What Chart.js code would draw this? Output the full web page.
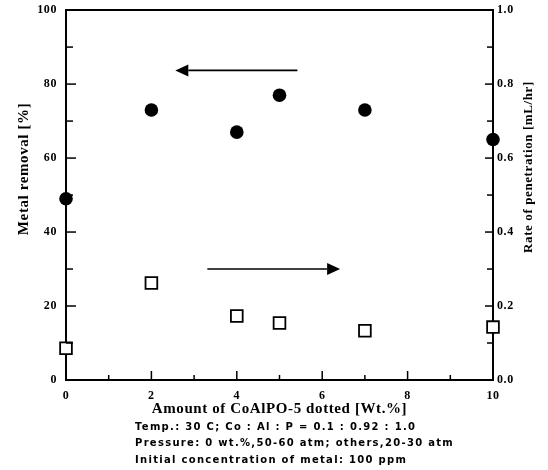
<!DOCTYPE html>
<html>
<head>
<meta charset="utf-8">
<script src="https://cdn.jsdelivr.net/npm/chart.js@4/dist/chart.umd.min.js"></script>
<style>
  html, body { margin: 0; padding: 0; background: #fff; }
  #wrap { width: 548px; height: 470px; position: relative; }
</style>
</head>
<body>
<div id="wrap"><canvas id="c" width="548" height="470"></canvas></div>
<script>
// ---- data ----
const amounts = [0, 2, 4, 5, 7, 10];                       // wt.% CoAlPO-5
const metalRemoval = [49, 73, 67, 77, 73, 65];             // % (left axis)
const penetrationRate = [0.086, 0.262, 0.173, 0.154, 0.133, 0.143]; // mL/hr (right axis)
const xTickLabels = ['0', '', '2', '', '4', '', '6', '', '8', '', '10'];
const leftTickLabels = ['0', '', '20', '', '40', '', '60', '', '80', '', '100'];
const rightTickLabels = ['0.0', '', '0.2', '', '0.4', '', '0.6', '', '0.8', '', '1.0'];
// arrows: [xStart, xEnd, y(left axis)]
const arrowToRemoval = [5.42, 2.56, 83.7];
const arrowToRate = [3.31, 6.42, 30.0];
const footerLines = [
  'Temp.: 30 C; Co : Al : P = 0.1 : 0.92 : 1.0',
  'Pressure: 0 wt.%,50-60 atm; others,20-30 atm',
  'Initial concentration of metal: 100 ppm'
];
const xTitle = 'Amount of CoAlPO-5 dotted [Wt.%]';
const leftTitle = 'Metal removal [%]';
const rightTitle = 'Rate of penetration [mL/hr]';

const serifBold = (s) => ({ family: '"Liberation Serif", "Times New Roman", serif', size: s, weight: 'bold' });

const spacingPlugin = {
  id: 'spacing',
  beforeDraw(chart) { chart.ctx.letterSpacing = '0.6px'; }
};

const decorPlugin = {
  id: 'decor',
  afterDraw(chart) {
    const { ctx, chartArea: ca, scales } = chart;
    const x = scales.x, y = scales.y, y2 = scales.y2;
    ctx.save();
    ctx.strokeStyle = '#000';
    ctx.fillStyle = '#000';
    // top border
    ctx.lineWidth = 2;
    ctx.beginPath();
    ctx.moveTo(ca.left - 1, ca.top);
    ctx.lineTo(ca.right + 1, ca.top);
    ctx.stroke();
    // inward tick marks
    ctx.lineWidth = 1.5;
    x.ticks.forEach((t, i) => {
      const px = x.getPixelForValue(t.value);
      const len = xTickLabels[i] ? 9 : 5;
      ctx.beginPath(); ctx.moveTo(px, ca.bottom); ctx.lineTo(px, ca.bottom - len); ctx.stroke();
    });
    y.ticks.forEach((t, i) => {
      const py = y.getPixelForValue(t.value);
      const len = leftTickLabels[i] ? 10 : 7;
      ctx.beginPath(); ctx.moveTo(ca.left, py); ctx.lineTo(ca.left + len, py); ctx.stroke();
    });
    y2.ticks.forEach((t, i) => {
      const py = y2.getPixelForValue(t.value);
      const len = rightTickLabels[i] ? 8 : 6;
      ctx.beginPath(); ctx.moveTo(ca.right, py); ctx.lineTo(ca.right - len, py); ctx.stroke();
    });
    // arrows
    const drawArrow = (a) => {
      const x1 = x.getPixelForValue(a[0]);
      const x2 = x.getPixelForValue(a[1]);
      const py = y.getPixelForValue(a[2]);
      const dir = Math.sign(x2 - x1);
      const headLen = 13, headHalf = 6;
      ctx.lineWidth = 1.6;
      ctx.beginPath(); ctx.moveTo(x1, py); ctx.lineTo(x2 - dir * headLen, py); ctx.stroke();
      ctx.beginPath();
      ctx.moveTo(x2, py);
      ctx.lineTo(x2 - dir * headLen, py - headHalf);
      ctx.lineTo(x2 - dir * headLen, py + headHalf);
      ctx.closePath(); ctx.fill();
    };
    drawArrow(arrowToRemoval);
    drawArrow(arrowToRate);
    // right axis title (reads bottom to top)
    ctx.save();
    ctx.letterSpacing = '0.6px';
    ctx.font = 'bold 13px "Liberation Serif", serif';
    ctx.textAlign = 'center';
    ctx.textBaseline = 'middle';
    ctx.translate(529, 167);
    ctx.rotate(-Math.PI / 2);
    ctx.fillText(rightTitle, 0, 0);
    ctx.restore();
    // footer notes
    ctx.letterSpacing = '1.3px';
    ctx.font = 'bold 10px "DejaVu Sans", sans-serif';
    ctx.textAlign = 'left';
    ctx.textBaseline = 'middle';
    footerLines.forEach((line, i) => ctx.fillText(line, 135, 427 + i * 16.5));
    ctx.restore();
  }
};

new Chart(document.getElementById('c'), {
  type: 'scatter',
  data: {
    datasets: [
      {
        label: 'Metal removal',
        data: amounts.map((a, i) => ({ x: a, y: metalRemoval[i] })),
        yAxisID: 'y',
        pointStyle: 'circle',
        pointRadius: 6.8,
        pointHoverRadius: 6.8,
        backgroundColor: '#000',
        borderColor: '#000',
        borderWidth: 0,
        clip: false
      },
      {
        label: 'Rate of penetration',
        data: amounts.map((a, i) => ({ x: a, y: penetrationRate[i] })),
        yAxisID: 'y2',
        pointStyle: 'rect',
        pointRadius: 8.3,
        pointHoverRadius: 8.3,
        backgroundColor: '#fff',
        borderColor: '#000',
        borderWidth: 1.8,
        clip: false
      }
    ]
  },
  options: {
    responsive: false,
    animation: false,
    layout: { padding: { top: 10, left: 0, right: 0, bottom: 0 } },
    plugins: { legend: { display: false }, tooltip: { enabled: false }, title: { display: false } },
    scales: {
      x: {
        type: 'linear', min: 0, max: 10,
        grid: { display: false, drawTicks: false },
        border: { display: true, color: '#000', width: 2 },
        ticks: {
          stepSize: 1, color: '#000', font: serifBold(12), padding: 9, maxRotation: 0, autoSkip: false,
          callback: (v, i) => xTickLabels[i]
        },
        title: {
          display: true, text: xTitle, color: '#000', font: serifBold(15),
          padding: { top: 0, bottom: 52 }
        },
        afterFit: (s) => { s.height = 90; s.paddingLeft = 0; s.paddingRight = 0; }
      },
      y: {
        type: 'linear', position: 'left', min: 0, max: 100,
        grid: { display: false, drawTicks: false },
        border: { display: true, color: '#000', width: 2 },
        ticks: {
          stepSize: 10, color: '#000', font: serifBold(12), padding: 9, autoSkip: false,
          callback: (v, i) => leftTickLabels[i]
        },
        title: {
          display: true, text: '            ' + leftTitle, color: '#000', font: serifBold(15),
          padding: { top: 15, bottom: 0 }
        },
        afterFit: (s) => { s.width = 66; s.paddingTop = 0; s.paddingBottom = 0; }
      },
      y2: {
        type: 'linear', position: 'right', min: 0, max: 1,
        grid: { display: false, drawTicks: false },
        border: { display: true, color: '#000', width: 2 },
        ticks: {
          stepSize: 0.1, color: '#000', font: serifBold(12), padding: 4, autoSkip: false,
          callback: (v, i) => rightTickLabels[i]
        },
        afterFit: (s) => { s.width = 55; s.paddingTop = 0; s.paddingBottom = 0; }
      }
    }
  },
  plugins: [spacingPlugin, decorPlugin]
});
</script>
</body>
</html>
